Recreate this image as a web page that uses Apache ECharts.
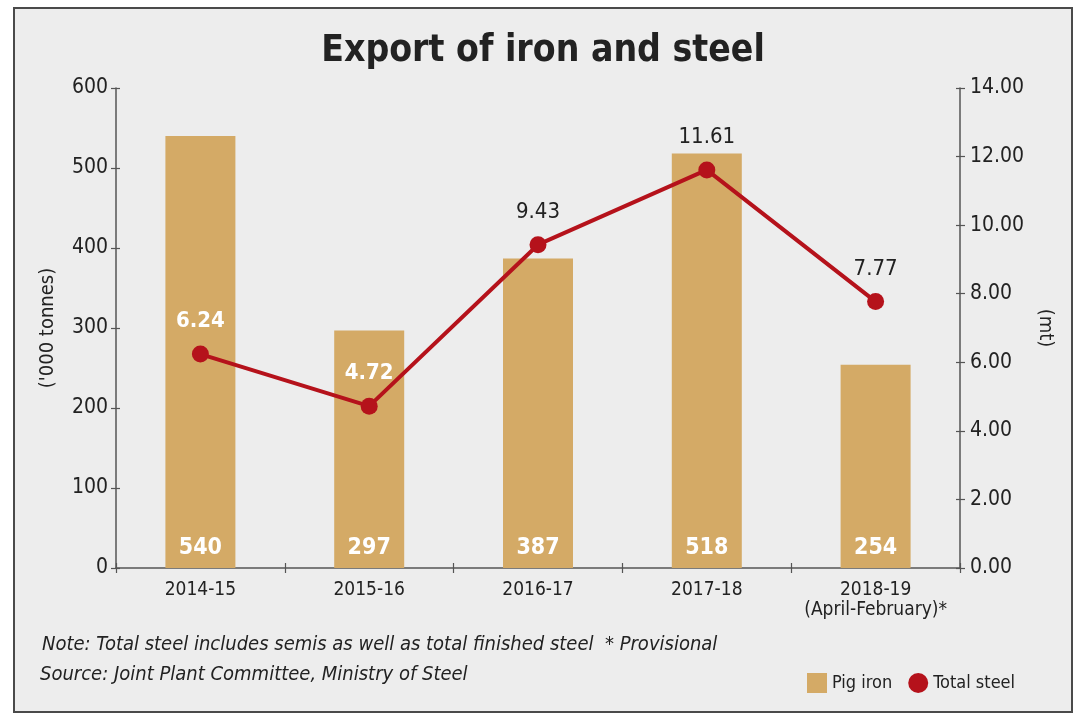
<!DOCTYPE html>
<html>
<head>
<meta charset="utf-8">
<script src="https://cdn.jsdelivr.net/npm/echarts@6/dist/echarts.min.js"></script>
<style>
html,body{margin:0;padding:0;background:#fff;}
#chart{width:1086px;height:725px;}
</style>
</head>
<body>
<div id="chart"></div>
<script>
const categories = ['2014-15', '2015-16', '2016-17', '2017-18', '2018-19\n(April-February)*'];
const pigIron = [540, 297, 387, 518, 254];
const totalSteel = [6.24, 4.72, 9.43, 11.61, 7.77];
const leftTicks = [0, 100, 200, 300, 400, 500, 600];
const rightTicks = [0, 2, 4, 6, 8, 10, 12, 14];
const whiteLabelIdx = [0, 1];

const FONT = '"Liberation Sans Narrow", "DejaVu Sans Condensed", "Liberation Sans", sans-serif';
const chart = echarts.init(document.getElementById('chart'));
const gridBox = {left: 116, right: 126, top: 88, bottom: 157};
const tickStyle = {color: '#555', width: 1.2};

chart.setOption({
  backgroundColor: '#ffffff',
  animation: false,
  graphic: [{
    type: 'rect', z: -10, silent: true,
    shape: {x: 14, y: 8, width: 1058, height: 704},
    style: {fill: '#ededed', stroke: '#4a4a4a', lineWidth: 2}
  }, {
    type: 'text', left: 42, top: 635,
    style: {text: 'Note: Total steel includes semis as well as total finished steel  * Provisional', font: 'italic 20px ' + FONT, fill: '#222'}
  }, {
    type: 'text', left: 40, top: 665,
    style: {text: 'Source: Joint Plant Committee, Ministry of Steel', font: 'italic 20px ' + FONT, fill: '#222'}
  }],
  title: {
    text: 'Export of iron and steel',
    left: 'center', top: 28,
    textStyle: {fontFamily: FONT, fontWeight: 'bold', fontSize: 37, color: '#222'}
  },
  legend: {
    left: 802, top: 668, itemGap: 16, itemWidth: 20, itemHeight: 20,
    textStyle: {fontFamily: FONT, fontSize: 18, color: '#222'},
    data: [{name: 'Pig iron', icon: 'rect'}, {name: 'Total steel', icon: 'circle'}]
  },
  grid: [Object.assign({}, gridBox), Object.assign({}, gridBox)],
  xAxis: [{
    type: 'category', data: categories, gridIndex: 0,
    axisLine: {lineStyle: {color: '#555', width: 1.5}},
    axisTick: {show: true, length: 5, lineStyle: tickStyle},
    axisLabel: {fontFamily: FONT, fontSize: 19, color: '#222', margin: 12, lineHeight: 20, interval: 0}
  }, {
    type: 'category', data: categories, gridIndex: 1, position: 'bottom',
    axisLine: {show: false}, axisLabel: {show: false},
    axisTick: {show: true, inside: true, length: 5, lineStyle: tickStyle}
  }],
  yAxis: [{
    type: 'value', min: 0, max: 600, interval: 100, position: 'left', gridIndex: 0,
    name: "('000 tonnes)", nameLocation: 'middle', nameGap: 58,
    nameTextStyle: {fontFamily: FONT, fontSize: 20, color: '#222'},
    axisLine: {show: true, lineStyle: {color: '#555', width: 1.5}},
    axisTick: {show: true, length: 5, lineStyle: tickStyle},
    axisLabel: {fontFamily: FONT, fontSize: 21, color: '#222', margin: 8,
      formatter: v => leftTicks.includes(v) ? String(v) : ''},
    splitLine: {show: false}
  }, {
    type: 'value', min: 0, max: 14, interval: 2, position: 'right', gridIndex: 0,
    name: '(mt)', nameLocation: 'middle', nameGap: 74, nameRotate: -90,
    nameTextStyle: {fontFamily: FONT, fontSize: 20, color: '#222'},
    axisLine: {show: true, lineStyle: {color: '#555', width: 1.5}},
    axisTick: {show: true, length: 5, lineStyle: tickStyle},
    axisLabel: {fontFamily: FONT, fontSize: 21, color: '#222', margin: 10,
      formatter: v => rightTicks.includes(v) ? v.toFixed(2) : ''},
    splitLine: {show: false}
  }, {
    type: 'value', min: 0, max: 600, interval: 100, position: 'left', gridIndex: 1,
    axisLine: {show: false}, axisLabel: {show: false}, splitLine: {show: false},
    axisTick: {show: true, inside: true, length: 4, lineStyle: tickStyle}
  }, {
    type: 'value', min: 0, max: 14, interval: 2, position: 'right', gridIndex: 1,
    axisLine: {show: false}, axisLabel: {show: false}, splitLine: {show: false},
    axisTick: {show: true, inside: true, length: 4, lineStyle: tickStyle}
  }],
  series: [{
    name: 'Pig iron', type: 'bar', xAxisIndex: 0, yAxisIndex: 0,
    data: pigIron, barWidth: 70,
    itemStyle: {color: '#d4aa66'},
    label: {show: true, position: 'insideBottom', distance: 8, color: '#fff',
      fontFamily: FONT, fontWeight: 'bold', fontSize: 23}
  }, {
    name: 'Total steel', type: 'line', xAxisIndex: 0, yAxisIndex: 1,
    data: totalSteel.map((v, i) => ({
      value: v,
      label: whiteLabelIdx.includes(i)
        ? {color: '#fff', fontWeight: 'bold'}
        : {color: '#222', fontWeight: 'normal'}
    })),
    symbol: 'circle', symbolSize: 17,
    lineStyle: {color: '#b5121b', width: 4},
    itemStyle: {color: '#b5121b'},
    label: {show: true, position: 'top', distance: 13, fontFamily: FONT, fontSize: 22,
      formatter: p => p.value.toFixed(2)}
  }]
});
</script>
</body>
</html>
